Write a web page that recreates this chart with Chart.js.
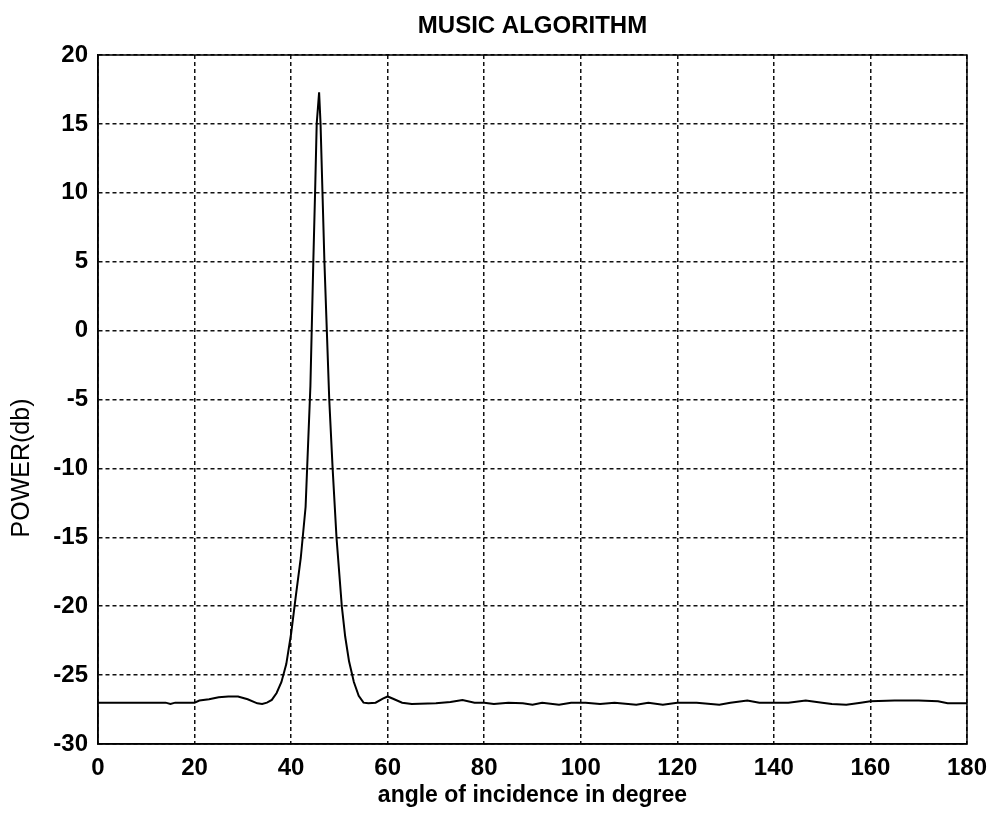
<!DOCTYPE html>
<html>
<head>
<meta charset="utf-8">
<title>MUSIC ALGORITHM</title>
<script src="https://cdn.jsdelivr.net/npm/chart.js@4.4.0/dist/chart.umd.min.js"></script>
<style>
  html, body { margin: 0; padding: 0; background: #fff; }
  #wrap { width: 997px; height: 816px; }
</style>
</head>
<body>
<div id="wrap"><canvas id="musicChart" width="997" height="816"></canvas></div>
<script>
// angle (deg) and spectrum power (dB)
const angles = [
  0, 5, 10, 14, 15, 16, 20, 21, 23, 25, 27, 29, 31, 33, 34, 35, 36, 37, 38, 39,
  40, 41, 42, 43, 44, 44.6, 45, 45.3, 45.8, 46.1, 46.5, 46.9, 47.4, 47.9, 48.6, 49.4,
  50.5, 51.2, 52, 53, 54, 55, 56, 57.5, 59, 60, 61, 63, 65, 70, 73, 75.5, 78, 80,
  82, 85, 88, 90, 92, 95.5, 98, 101, 104, 107, 111.5, 114, 117, 120, 124, 128.7,
  131, 134.5, 137, 140, 143, 146.6, 150, 152, 155, 158, 160, 165, 170, 174, 176, 180
];
const power = [
  -27.0, -27.0, -27.0, -27.0, -27.1, -27.0, -27.0, -26.85, -26.75, -26.6, -26.55, -26.55, -26.75, -27.05, -27.1, -27.0, -26.8, -26.3, -25.5, -24.2,
  -22.0, -19.2, -16.5, -12.8, -4.0, 5.0, 10.5, 15.0, 17.3, 15.0, 10.0, 5.0, 0.0, -5.0, -10.0, -15.0,
  -20.0, -22.2, -24.0, -25.5, -26.5, -27.0, -27.05, -27.0, -26.7, -26.55, -26.7, -27.0, -27.1, -27.05, -26.95, -26.8, -27.0, -27.0,
  -27.1, -27.0, -27.05, -27.15, -27.0, -27.15, -27.0, -27.0, -27.1, -27.0, -27.15, -27.0, -27.15, -27.0, -27.0, -27.15,
  -27.0, -26.85, -27.0, -27.0, -27.0, -26.85, -27.0, -27.1, -27.15, -27.0, -26.9, -26.85, -26.85, -26.9, -27.05, -27.05
];

const titleText = 'MUSIC ALGORITHM';
const xLabel = 'angle of incidence in degree';
const yLabel = 'POWER(db)';

const fontFamily = '"Liberation Sans", Arial, Helvetica, sans-serif';

// solid box round the axes + y label placed like the original
const framePlugin = {
  id: 'frame',
  afterDraw(chart) {
    const { ctx, chartArea } = chart;
    ctx.save();
    ctx.strokeStyle = '#000';
    ctx.lineWidth = 1.5;
    ctx.strokeRect(chartArea.left, chartArea.top, chartArea.right - chartArea.left, chartArea.bottom - chartArea.top);

    ctx.translate(22, 468);
    ctx.rotate(-Math.PI / 2);
    ctx.fillStyle = '#000';
    ctx.font = '25px ' + fontFamily;
    ctx.textAlign = 'center';
    ctx.textBaseline = 'middle';
    ctx.fillText(yLabel, 0, 0);
    ctx.restore();
  }
};

const points = angles.map((a, i) => ({ x: a, y: power[i] }));

const ctx = document.getElementById('musicChart').getContext('2d');
new Chart(ctx, {
  type: 'line',
  data: {
    datasets: [
      {
        label: 'MUSIC spectrum',
        data: points,
        borderColor: '#000',
        borderWidth: 2,
        pointRadius: 0,
        tension: 0
      }
    ]
  },
  options: {
    responsive: false,
    animation: false,
    layout: {
      padding: { left: 0, right: 29, top: 0, bottom: 0 }
    },
    plugins: {
      legend: { display: false },
      tooltip: { enabled: false },
      title: {
        display: true,
        text: titleText,
        fullSize: false,
        color: '#000',
        font: { family: fontFamily, size: 24, weight: 'bold' },
        padding: { top: 12, bottom: 14.2 }
      }
    },
    scales: {
      x: {
        type: 'linear',
        min: 0,
        max: 180,
        afterFit(scale) { scale.height = 72; },
        ticks: {
          stepSize: 20,
          color: '#000',
          padding: 10,
          maxRotation: 0,
          font: { family: fontFamily, size: 24, weight: 'bold' }
        },
        grid: {
          color: '#111',
          lineWidth: 1.5,
          drawTicks: false
        },
        border: {
          display: true,
          color: '#000',
          width: 1.5,
          dash: [4, 3]
        },
        title: {
          display: true,
          text: xLabel,
          color: '#000',
          font: { family: fontFamily, size: 23, weight: 'bold' },
          padding: { top: 0, bottom: 7 }
        }
      },
      y: {
        type: 'linear',
        min: -30,
        max: 20,
        afterFit(scale) { scale.width = 98; },
        ticks: {
          stepSize: 5,
          color: '#000',
          padding: 10,
          font: { family: fontFamily, size: 24, weight: 'bold' }
        },
        grid: {
          color: '#111',
          lineWidth: 1.5,
          drawTicks: false
        },
        border: {
          display: true,
          color: '#000',
          width: 1.5,
          dash: [4, 3]
        }
      }
    }
  },
  plugins: [framePlugin]
});
</script>
</body>
</html>
